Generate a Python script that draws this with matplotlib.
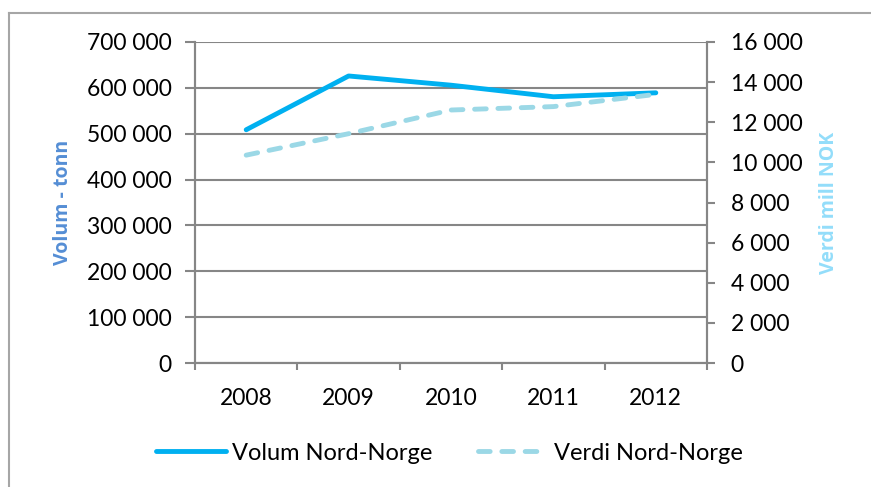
import matplotlib.pyplot as plt
from matplotlib.lines import Line2D
from matplotlib.ticker import FuncFormatter

years = ["2008", "2009", "2010", "2011", "2012"]
volum = [508600, 625900, 605800, 580600, 589200]   # tonn
verdi = [10360, 11430, 12610, 12780, 13390]       # mill NOK

plt.rcParams['font.family'] = ['Lato', 'DejaVu Sans']
grey = "#868686"

def space_fmt(v, pos):
    return f"{int(v):,}".replace(",", " ")

fig = plt.figure(figsize=(8.71, 4.87), dpi=100)
ax = fig.add_axes([195/871, 1-363/487, (707-195)/871, (363-42)/487])
ax2 = ax.twinx()

x = range(len(years))
ax.plot(x, volum, color="#00B0F0", lw=3.5, solid_capstyle="round", zorder=3)
ax2.plot(x, verdi, color="#9BD8E6", lw=3.5, dashes=(2.4, 2.4), dash_capstyle="round", zorder=3)

ax.set_xlim(-0.5, 4.5)
ax.set_ylim(0, 700000)
ax.set_yticks(range(0, 700001, 100000))
ax.yaxis.set_major_formatter(FuncFormatter(space_fmt))
ax2.set_ylim(0, 16000)
ax2.set_yticks(range(0, 16001, 2000))
ax2.yaxis.set_major_formatter(FuncFormatter(space_fmt))

ax.set_xticks([i + 0.5 for i in range(-1, 5)])
ax.set_xticklabels([])
ax.set_xticks(list(x), minor=True)
ax.set_xticklabels(years, minor=True)
ax.tick_params(axis="x", which="major", length=5, color=grey, width=1.5)
ax.tick_params(axis="x", which="minor", length=0, pad=18, labelsize=16.5)

ax.grid(axis="y", color=grey, lw=1.5)
ax.set_axisbelow(True)
for a in (ax, ax2):
    for s in a.spines.values():
        s.set_color(grey)
        s.set_linewidth(1.5)
    a.spines["top"].set_visible(False)
ax.tick_params(axis="y", length=7, color=grey, width=1.5, labelsize=16.5, pad=10)
ax2.tick_params(axis="y", length=6, color=grey, width=1.5, labelsize=16.5, pad=11)

ax.set_ylabel("Volum - tonn", color="#558ED5", fontsize=14, fontweight="bold",
              family=["Open Sans", "DejaVu Sans"], labelpad=10)
ax2.set_ylabel("Verdi mill NOK", color="#93DDFA", fontsize=14, fontweight="bold",
               family=["Open Sans", "DejaVu Sans"], labelpad=12)

handles = [Line2D([], [], color="#00B0F0", lw=3.5, solid_capstyle="round"),
           Line2D([], [], color="#9BD8E6", lw=3.5, dashes=(2.4, 2.4), dash_capstyle="round")]
fig.legend(handles, ["Volum Nord-Norge", "Verdi Nord-Norge"], loc="center",
           bbox_to_anchor=(0.516, 1-453/487), ncol=2, frameon=False, fontsize=17,
           handlelength=3.0, handletextpad=0.25, columnspacing=1.9)

# outer chart frame
fig.add_artist(Line2D([9/871, 9/871], [0, 1-13/487], color="#A6A6A6", lw=1.5))
fig.add_artist(Line2D([9/871, 1], [1-13/487, 1-13/487], color="#A6A6A6", lw=1.5))

fig.savefig("out.png", dpi=100)
